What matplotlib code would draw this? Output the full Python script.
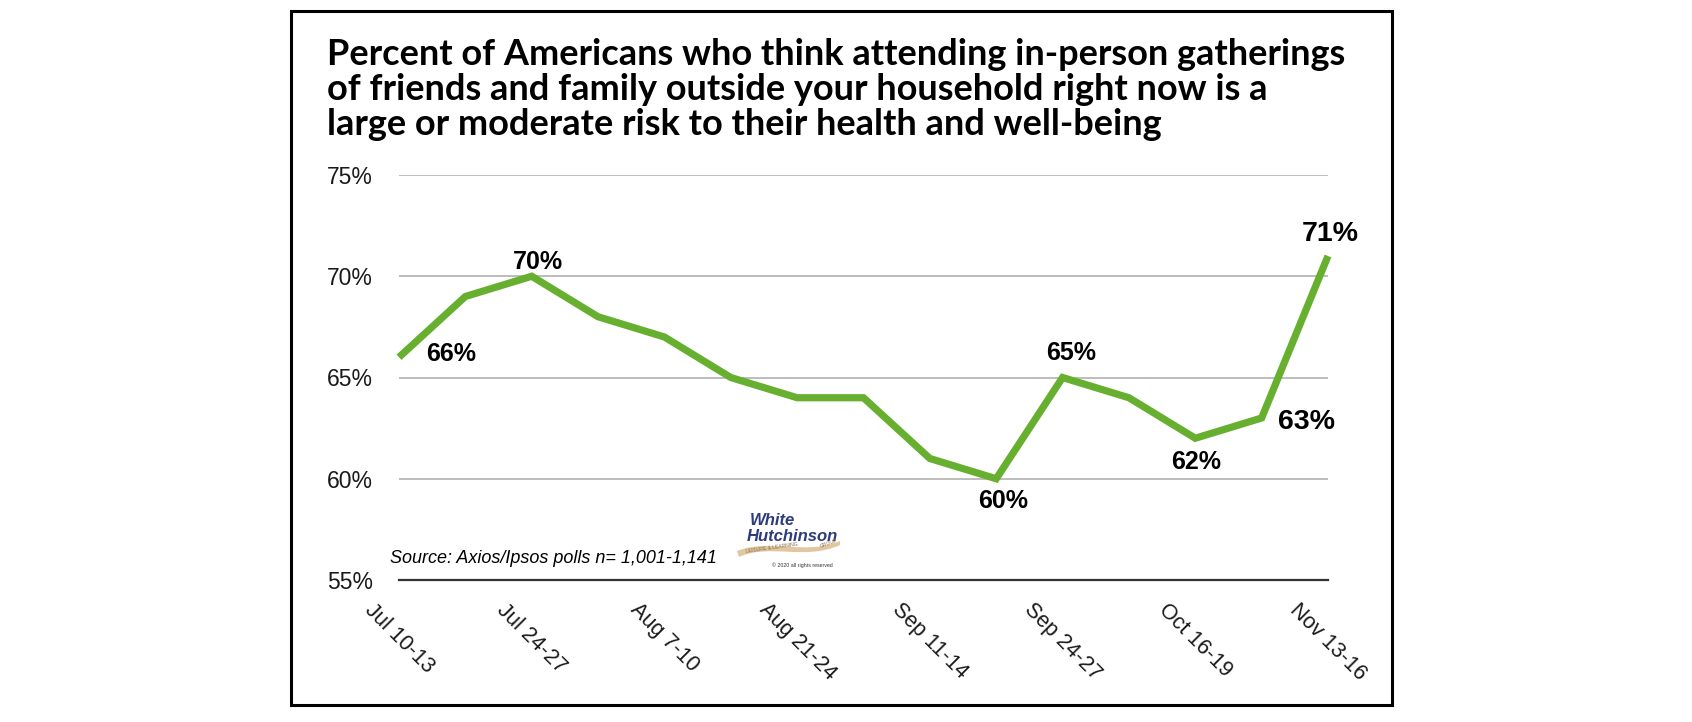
import matplotlib.pyplot as plt
import numpy as np
from matplotlib.patches import Rectangle, PathPatch
from matplotlib.path import Path

# sondaggi Axios/Ipsos, uno ogni settimana circa (le etichette solo una si e una no)
values = [66, 69, 70, 68, 67, 65, 64, 64, 61, 60, 65, 64, 62, 63, 71]
tick_labels = ['Jul 10-13', 'Jul 24-27', 'Aug 7-10', 'Aug 21-24',
               'Sep 11-14', 'Sep 24-27', 'Oct 16-19', 'Nov 13-16']
y_ticks = [55, 60, 65, 70, 75]
labeled = [0, 2, 9, 10, 12, 13, 14]

title_lines = ['Percent of Americans who think attending in-person gatherings',
               'of friends and family outside your household right now is a',
               'large or moderate risk to their health and well-being']
source = 'Source: Axios/Ipsos polls n= 1,001-1,141'

# stile
W, H = 1692, 722
green = '#67AF2F'
navy = '#2E3B7C'
tan = '#D9B98A'
# spostamento etichette (pixel: dx, dy verso l'alto) e dimensione
lab_off = {0: (52, 3), 2: (6, 14), 9: (7, -22), 10: (9, 24),
           12: (1, -24), 13: (45, -4), 14: (2, 22)}
lab_size = {13: 20.5, 14: 20.5}


def fx(px):
    return px / W


def fy(py):
    return 1 - py / H


plt.rcParams['font.family'] = ['Liberation Sans', 'DejaVu Sans']

fig = plt.figure(figsize=(W / 100, H / 100), dpi=100)
fig.patch.set_facecolor('white')

# riquadro esterno
fig.add_artist(Rectangle((fx(291), fy(705)), fx(1392) - fx(291), fy(11) - fy(705),
                         transform=fig.transFigure, fill=False, edgecolor='black',
                         linewidth=2.2))

ax = fig.add_axes([fx(399), fy(580), fx(1328) - fx(399), fy(175) - fy(580)])
x = np.arange(len(values))
ax.plot(x, values, color=green, linewidth=5.2, solid_joinstyle='miter',
        solid_capstyle='butt', clip_on=False, zorder=3)

ax.set_xlim(0, len(values) - 1)
ax.set_ylim(y_ticks[0], y_ticks[-1])
ax.set_yticks(y_ticks)
ax.set_yticklabels([f'{v}%' for v in y_ticks], fontsize=16.5, color='#1a1a1a')
ax.set_xticks(x[::2])
ax.set_xticklabels(tick_labels, fontsize=15.5, rotation=-45, ha='center', va='top',
                   color='#1a1a1a')
ax.tick_params(axis='y', length=0, pad=19)
ax.tick_params(axis='x', length=0, pad=14)

ax.grid(axis='y', color='#BDBDBD', linewidth=1.4)
ax.set_axisbelow(True)
for s in ['left', 'right', 'top']:
    ax.spines[s].set_visible(False)
ax.spines['bottom'].set_color('#333333')
ax.spines['bottom'].set_linewidth(1.6)
ax.spines['bottom'].set_zorder(2.5)

for i in labeled:
    dx, dy = lab_off[i]
    ax.annotate(f'{values[i]}%', (x[i], values[i]), xytext=(dx, dy),
                textcoords='offset pixels', ha='center', va='center',
                fontsize=lab_size.get(i, 18), fontweight='bold', color='black')

# titolo
for k, line in enumerate(title_lines):
    fig.text(fx(327), fy(65 + 35 * k), line, fontsize=26, fontweight='bold',
             family=['Lato', 'DejaVu Sans'], ha='left', va='baseline', color='black')

fig.text(fx(390), fy(563), source, fontsize=13, style='italic', ha='left',
         va='baseline', color='black')

# logo White Hutchinson
fig.text(fx(750), fy(525), 'White', fontsize=12, fontweight='bold', style='italic',
         color=navy, ha='left', va='baseline')
fig.text(fx(747), fy(541), 'Hutchinson', fontsize=12, fontweight='bold', style='italic',
         color=navy, ha='left', va='baseline')
verts = [(fx(737), fy(551)), (fx(770), fy(538)), (fx(805), fy(556)), (fx(840), fy(541)),
         (fx(840), fy(545)), (fx(805), fy(561)), (fx(770), fy(543)), (fx(739), fy(557)),
         (fx(737), fy(551))]
codes = [Path.MOVETO, Path.CURVE4, Path.CURVE4, Path.CURVE4,
         Path.LINETO, Path.CURVE4, Path.CURVE4, Path.CURVE4, Path.CLOSEPOLY]
fig.add_artist(PathPatch(Path(verts, codes), transform=fig.transFigure,
                         facecolor=tan, edgecolor='none', alpha=0.8))
fig.text(fx(745), fy(553), 'LEISURE & LEARNING', fontsize=3.6, color='#8a6d45',
         rotation=8, ha='left', va='baseline')
fig.text(fx(819), fy(548), 'GROUP', fontsize=3.6, color='#8a6d45',
         rotation=20, ha='left', va='baseline')
fig.text(fx(772), fy(567), '\u00a9 2020 all rights reserved', fontsize=3.8,
         color='#333333', ha='left', va='baseline')

fig.savefig('out.png', dpi=100, facecolor='white')
